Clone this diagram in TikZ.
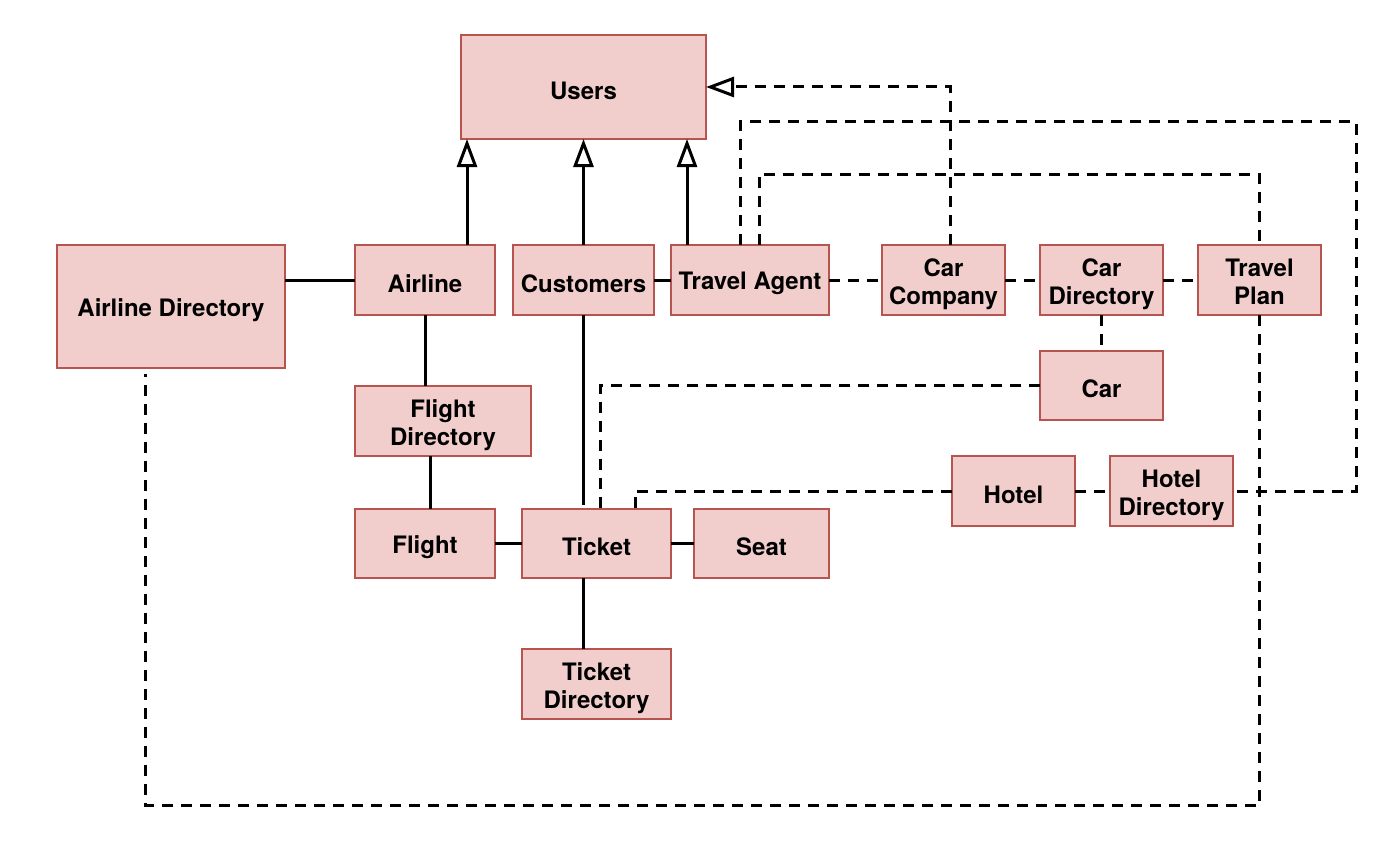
\documentclass[tikz,border=0pt]{standalone}
\usepackage{fontspec}
\setmainfont{TeX Gyre Heros}
\usetikzlibrary{arrows.meta,calc}
\definecolor{boxfill}{HTML}{F1CECC}
\definecolor{boxline}{HTML}{B85450}
\tikzset{
  boxbase/.style={draw=boxline, fill=boxfill, line width=1.5pt, inner sep=0pt, outer sep=0pt,
    align=center, font=\fontsize{24}{28}\selectfont\bfseries},
  box/.style={boxbase, execute at begin node={\rule{0pt}{24.5pt}}},
  mbox/.style={boxbase, execute at begin node={\rule{0pt}{56pt}},
    execute at end node={\rule[-8pt]{0pt}{8pt}}},
  solidlink/.style={line width=3pt, draw=black},
  dashlink/.style={line width=3pt, draw=black, dash pattern=on 11pt off 8pt},
  gen/.style={-{Triangle[open, length=28pt, width=20pt, fill=white]}},
}
\begin{document}
\begin{tikzpicture}[x=1pt,y=-1pt]
\useasboundingbox (0,0) rectangle (1400,864);
\fill[white] (0,0) rectangle (1400,864);
% nodes
\node[box, minimum width=245pt, minimum height=104pt] (users) at (583.5,87) {Users};
\node[box, minimum width=228pt, minimum height=123pt] (airdir) at (171,306.5) {Airline Directory};
\node[box, minimum width=140pt, minimum height=70pt] (airline) at (425,280) {Airline};
\node[box, minimum width=141pt, minimum height=70pt] (customers) at (583.5,280) {Customers};
\node[box, minimum width=158pt, minimum height=70pt] (agent) at (750,280) {Travel Agent};
\node[mbox, minimum width=123pt, minimum height=70pt] (carco) at (943.5,280) {Car\\Company};
\node[mbox, minimum width=123pt, minimum height=70pt] (cardir) at (1101.5,280) {Car\\Directory};
\node[mbox, minimum width=123pt, minimum height=70pt] (plan) at (1259.5,280) {Travel\\Plan};
\node[box, minimum width=123pt, minimum height=69pt] (car) at (1101.5,385.5) {Car};
\node[mbox, minimum width=176pt, minimum height=70pt] (flightdir) at (443,421) {Flight\\Directory};
\node[box, minimum width=123pt, minimum height=70pt] (hotel) at (1013.5,491) {Hotel};
\node[mbox, minimum width=123pt, minimum height=70pt] (hoteldir) at (1171.5,491) {Hotel\\Directory};
\node[box, minimum width=140pt, minimum height=69pt] (flight) at (425,543.5) {Flight};
\node[box, minimum width=149pt, minimum height=69pt] (ticket) at (596.5,543.5) {Ticket};
\node[box, minimum width=135pt, minimum height=69pt] (seat) at (761.5,543.5) {Seat};
\node[mbox, minimum width=149pt, minimum height=70pt] (ticketdir) at (596.5,684) {Ticket\\Directory};

% helper coordinates
\coordinate (ga) at ([xshift=42pt]airline.north);
\coordinate (gc) at (customers.north);
\coordinate (gt) at ([xshift=-63pt]agent.north);
\coordinate (gcc) at ([xshift=6.5pt]carco.north);
\coordinate (ta1) at ([xshift=-10pt]agent.north);
\coordinate (ta2) at ([xshift=9pt]agent.north);
\coordinate (k1) at (1356,122);
\coordinate (k2) at (1259.5,174);
\coordinate (k3) at (145,805);
\coordinate (adb) at ([xshift=-26pt,yshift=-6pt]airdir.south);
\coordinate (tc) at ([xshift=3.5pt]ticket.north);
\coordinate (th) at ([xshift=38.5pt]ticket.north);
\coordinate (fl) at ([xshift=5pt]flight.north);
\coordinate (td) at ([xshift=-13.5pt]ticket.south);

% generalisations
\draw[solidlink, gen] (ga) -- (ga |- users.south);
\draw[solidlink, gen] (gc) -- (gc |- users.south);
\draw[solidlink, gen] (gt) -- (gt |- users.south);
\draw[dashlink, gen] (gcc) |- (users.east);

% solid links
\draw[solidlink] (airline.west) -- (airline.west -| airdir.east);
\draw[solidlink] (airline.south) -- (airline.south |- flightdir.north);
\draw[solidlink] (fl) -- (fl |- flightdir.south);
\draw[solidlink] (flight.east) -- (ticket.west);
\draw[solidlink] (ticket.east) -- (seat.west);
\draw[solidlink] (td) -- (td |- ticketdir.north);
\draw[solidlink] (customers.south) -- ([yshift=4pt]customers.south |- ticket.north);
\draw[solidlink] (customers.east) -- (agent.west);

% dashed links
\draw[dashlink] (agent.east) -- (carco.west);
\draw[dashlink] (carco.east) -- (cardir.west);
\draw[dashlink] (cardir.east) -- (plan.west);
\draw[dashlink] (cardir.south) -- (car.north);
\draw[dashlink] (hotel.east) -- (hoteldir.west);
\draw[dashlink] (ta1) |- (k1) |- (hoteldir.east);
\draw[dashlink] (ta2) |- (k2) -- (plan.north);
\draw[dashlink] (plan.south) |- (k3) -- (adb);
\draw[dashlink] (car.west) -| (tc);
\draw[dashlink] (hotel.west) -| (th);
\end{tikzpicture}
\end{document}
